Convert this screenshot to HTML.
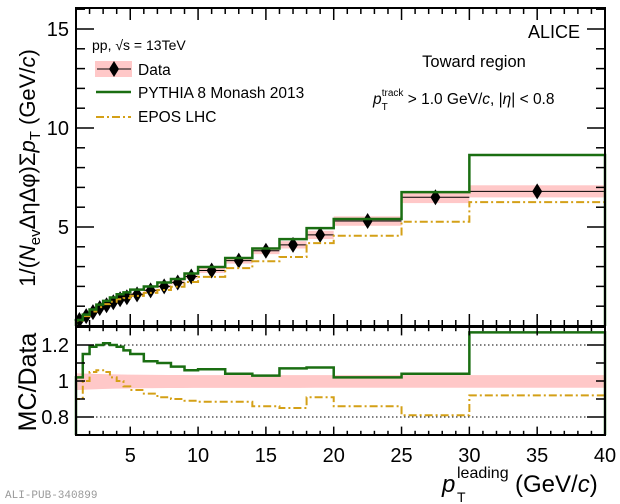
<!DOCTYPE html>
<html><head><meta charset="utf-8"><style>
html,body{margin:0;padding:0;background:#fff;}
svg{display:block;font-family:"Liberation Sans",sans-serif;}
</style></head><body>
<svg id="s" width="620" height="504" xmlns="http://www.w3.org/2000/svg"></svg>
<script>
const S=document.getElementById('s');
let h='';
const X0=76,X1=605,xmin=1,xmax=40;
const xp=v=>X0+(v-xmin)*(X1-X0)/(xmax-xmin);
const T0=8,T1=326,ytop=v=>T1-v*19.8;
const B0=327,B1=435,yb=v=>381-(v-1)*180;
const edges=[1,1.5,2,2.5,3,3.5,4,4.5,5,6,7,8,9,10,12,14,16,18,20,25,30,40];
const data=[0.3,0.5,0.7,0.9,1.05,1.2,1.35,1.45,1.6,1.8,2.0,2.2,2.5,2.8,3.3,3.8,4.1,4.6,5.3,6.5,6.8];
const rp=[1.02,1.15,1.19,1.2,1.21,1.2,1.19,1.17,1.15,1.11,1.1,1.08,1.06,1.065,1.04,1.03,1.07,1.075,1.02,1.04,1.27];
const re=[0.9,1.0,1.05,1.06,1.05,1.02,1.0,0.97,0.95,0.93,0.91,0.9,0.89,0.885,0.885,0.86,0.85,0.91,0.86,0.81,0.92];
function step(vals,f,yf,first){let d='';for(let i=0;i<vals.length;i++){const y=yf(f(i));const a=xp(edges[i]),b=xp(edges[i+1]);d+=(i==0?('M'+a+','+first+'L'):'L')+a+','+y+'L'+b+','+y;}d+='L'+xp(40)+','+first;return d;}
for(let i=0;i<data.length;i++){const a=xp(edges[i]),b=xp(edges[i+1]);const y1=ytop(data[i]*1.045),y2=ytop(data[i]*0.955);h+=`<rect x="${a}" y="${y1}" width="${b-a}" height="${y2-y1}" fill="#ffc8c8"/>`;}
{let up='',dn='';const n=40;for(let k=0;k<=n;k++){const v=1+39*k/n;const w=0.036+0.012*Math.exp(-(v-1)/3);up+=(k?'L':'M')+xp(v)+','+yb(1+w*0.9);}for(let k=n;k>=0;k--){const v=1+39*k/n;const w=0.036+0.012*Math.exp(-(v-1)/3);dn+='L'+xp(v)+','+yb(1-w*1.05);}h+=`<path d="${up}${dn}Z" fill="#ffc8c8"/>`;}
h+=`<line x1="${X0}" x2="${X1}" y1="${yb(1.2)}" y2="${yb(1.2)}" stroke="#000" stroke-dasharray="1.5,2.5" stroke-width="1"/>`;
h+=`<line x1="${X0}" x2="${X1}" y1="${yb(0.8)}" y2="${yb(0.8)}" stroke="#000" stroke-dasharray="1.5,2.5" stroke-width="1"/>`;
for(let i=0;i<data.length;i++){const a=xp(edges[i]),b=xp(edges[i+1]),c=(a+b)/2,y=ytop(data[i]);h+=`<line x1="${a}" x2="${b}" y1="${y}" y2="${y}" stroke="#000" stroke-width="1"/><path d="M${c},${y-8}L${c+5},${y}L${c},${y+8}L${c-5},${y}Z" fill="#000"/>`;}
h+=`<path d="${step(data,i=>data[i]*re[i],ytop,T1)}" fill="none" stroke="#d4a017" stroke-width="2" stroke-dasharray="8,3,2,3"/>`;
h+=`<path d="${step(data,i=>data[i]*rp[i],ytop,T1)}" fill="none" stroke="#1a6e12" stroke-width="2.5"/>`;
h+=`<path d="${step(re,i=>re[i],yb,B1)}" fill="none" stroke="#d4a017" stroke-width="2" stroke-dasharray="8,3,2,3"/>`;
h+=`<path d="${step(rp,i=>rp[i],yb,B1)}" fill="none" stroke="#1a6e12" stroke-width="2.5"/>`;
h+=`<rect x="${X0}" y="${T0}" width="${X1-X0}" height="${T1-T0}" fill="none" stroke="#000" stroke-width="2"/>`;
h+=`<rect x="${X0}" y="${B0}" width="${X1-X0}" height="${B1-B0}" fill="none" stroke="#000" stroke-width="2"/>`;
for(let v=1;v<=40;v++){const x=xp(v);const M=v%5==0;const L=M?12:6;
 h+=`<line x1="${x}" x2="${x}" y1="${T1}" y2="${T1-L}" stroke="#000" stroke-width="1.5"/><line x1="${x}" x2="${x}" y1="${T0}" y2="${T0+L}" stroke="#000" stroke-width="1.5"/>`;
 h+=`<line x1="${x}" x2="${x}" y1="${B1}" y2="${B1-L*0.7}" stroke="#000" stroke-width="1.5"/><line x1="${x}" x2="${x}" y1="${B0}" y2="${B0+L*0.7}" stroke="#000" stroke-width="1.5"/>`;
 if(M)h+=`<text x="${x}" y="462" font-size="20" text-anchor="middle">${v}</text>`;}
for(let v=1;v<=16;v++){const y=ytop(v);if(y<T0)continue;const L=v%5==0?18:9;h+=`<line x1="${X0}" x2="${X0+L}" y1="${y}" y2="${y}" stroke="#000" stroke-width="1.5"/><line x1="${X1}" x2="${X1-L}" y1="${y}" y2="${y}" stroke="#000" stroke-width="1.5"/>`;if(v%5==0)h+=`<text x="69" y="${y+7}" font-size="20" text-anchor="end">${v}</text>`;}
for(let k=0;k<=6;k++){const v=0.7+k*0.1;const y=yb(v);const M=(k==1||k==5);const L=M?18:9;h+=`<line x1="${X0}" x2="${X0+L}" y1="${y}" y2="${y}" stroke="#000" stroke-width="1.5"/><line x1="${X1}" x2="${X1-L}" y1="${y}" y2="${y}" stroke="#000" stroke-width="1.5"/>`;}
h+=`<text x="69" y="${yb(1.2)+7}" font-size="20" text-anchor="end">1.2</text><text x="69" y="${yb(1)+7}" font-size="20" text-anchor="end">1</text><text x="69" y="${yb(0.8)+7}" font-size="20" text-anchor="end">0.8</text>`;
h+=`<text transform="translate(35,168) rotate(-90)" font-size="22" text-anchor="middle">1/(<tspan font-style="italic">N</tspan><tspan font-size="15" dy="5">ev</tspan><tspan dy="-5">ΔηΔφ)Σ</tspan><tspan font-style="italic">p</tspan><tspan font-size="15" dy="5">T</tspan><tspan dy="-5"> (GeV/</tspan><tspan font-style="italic">c</tspan>)</text>`;
h+=`<text transform="translate(36,382) rotate(-90)" font-size="25" text-anchor="middle">MC/Data</text>`;
h+=`<text x="442" y="492" font-size="24" font-style="italic">p</text><text x="457" y="502" font-size="14">T</text><text x="457" y="478" font-size="16">leading</text><text x="515" y="492" font-size="24">(GeV/<tspan font-style="italic">c</tspan>)</text>`;
h+=`<text x="5" y="498" font-size="11" fill="#999" font-family="Liberation Mono,monospace">ALI-PUB-340899</text>`;
h+=`<text x="92" y="50" font-size="14">pp, √s = 13TeV</text>`;
h+=`<rect x="95" y="61" width="37" height="16" fill="#ffc8c8"/><line x1="97" x2="131" y1="69" y2="69" stroke="#000"/><path d="M114,61L119,69L114,77L109,69Z" fill="#000"/><text x="138" y="75" font-size="15.5">Data</text>`;
h+=`<line x1="96" x2="131" y1="92" y2="92" stroke="#1a6e12" stroke-width="2.5"/><text x="138" y="98" font-size="15.5">PYTHIA 8 Monash 2013</text>`;
h+=`<line x1="96" x2="131" y1="117" y2="117" stroke="#d4a017" stroke-width="2" stroke-dasharray="8,3,2,3"/><text x="138" y="122" font-size="15.5">EPOS LHC</text>`;
h+=`<text x="580" y="38" font-size="18" text-anchor="end">ALICE</text>`;
h+=`<text x="474" y="67" font-size="16.5" text-anchor="middle">Toward region</text>`;
h+=`<text x="373" y="104" font-size="15.5"><tspan font-style="italic">p</tspan><tspan font-size="10" dy="6">T</tspan><tspan font-size="10" dx="-6" dy="-14">track</tspan><tspan dy="8"> &gt; 1.0 GeV/</tspan><tspan font-style="italic">c</tspan>, |<tspan font-style="italic">η</tspan>| &lt; 0.8</text>`;
S.innerHTML=h;
</script>
</body></html>
